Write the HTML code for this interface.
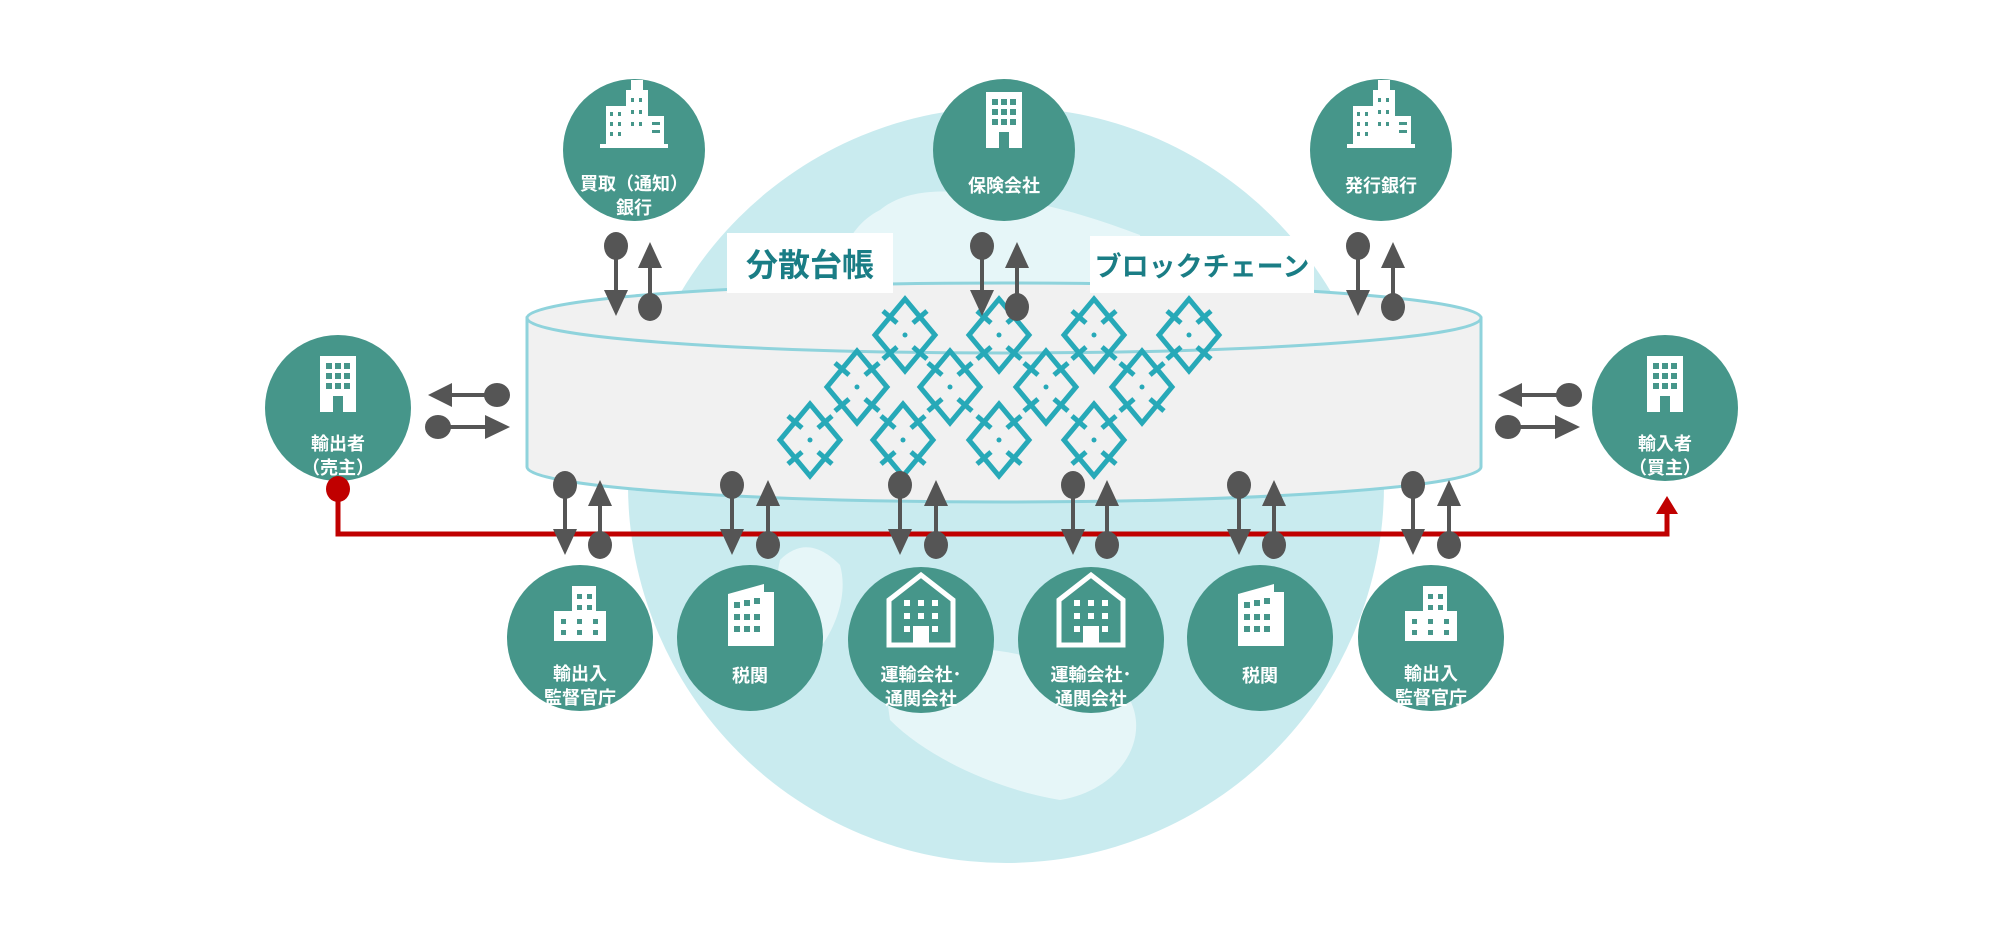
<!DOCTYPE html>
<html><head><meta charset="utf-8"><style>
html,body{margin:0;padding:0;background:#fff;}
svg{display:block;}
text{font-family:"Liberation Sans","Noto Sans CJK JP",sans-serif;font-weight:bold;}
</style></head><body>
<svg width="2000" height="929" viewBox="0 0 2000 929" xmlns="http://www.w3.org/2000/svg">
<defs>
<g id="dia" fill="none" stroke="#27a9b8" stroke-width="5">
<path d="M0,-36 L30,0 L0,36 L-30,0 Z"/>
<path d="M-22,-24 L-8,-12 M22,-24 L8,-12 M-22,24 L-8,12 M22,24 L8,12" />
<circle cx="0" cy="0" r="2.5" fill="#27a9b8" stroke="none"/>
</g>
<g id="dn"><ellipse cx="0" cy="0" rx="12" ry="14" fill="#555"/><line x1="0" y1="0" x2="0" y2="50" stroke="#555" stroke-width="4"/><path d="M-12,44 L12,44 L0,70 Z" fill="#555"/></g>
<g id="up"><ellipse cx="0" cy="65" rx="12" ry="14" fill="#555"/><line x1="0" y1="65" x2="0" y2="20" stroke="#555" stroke-width="4"/><path d="M-12,26 L12,26 L0,0 Z" fill="#555"/></g>
<g id="b1" fill="#fff"><rect x="-18" y="-28" width="36" height="56"/><g fill="#46968a"><rect x="-12" y="-21" width="6" height="6"/><rect x="-3" y="-21" width="6" height="6"/><rect x="6" y="-21" width="6" height="6"/><rect x="-12" y="-11" width="6" height="6"/><rect x="-3" y="-11" width="6" height="6"/><rect x="6" y="-11" width="6" height="6"/><rect x="-12" y="-1" width="6" height="6"/><rect x="-3" y="-1" width="6" height="6"/><rect x="6" y="-1" width="6" height="6"/><rect x="-5" y="12" width="10" height="16"/></g></g>
<g id="b2"><path d="M-32,-10 L0,-35 L32,-10 L32,35 L-32,35 Z" fill="none" stroke="#fff" stroke-width="5"/><g fill="#fff"><rect x="-17" y="-10" width="6" height="6"/><rect x="-3" y="-10" width="6" height="6"/><rect x="11" y="-10" width="6" height="6"/><rect x="-17" y="3" width="6" height="6"/><rect x="-3" y="3" width="6" height="6"/><rect x="11" y="3" width="6" height="6"/><rect x="-17" y="16" width="6" height="6"/><rect x="11" y="16" width="6" height="6"/><rect x="-8" y="16" width="16" height="19"/></g></g>
<g id="b3" fill="#fff"><rect x="-26" y="-5" width="52" height="30"/><rect x="-8" y="-30" width="24" height="30"/><g fill="#46968a"><rect x="-19" y="3" width="5" height="5"/><rect x="-3" y="3" width="5" height="5"/><rect x="13" y="3" width="5" height="5"/><rect x="-19" y="14" width="5" height="5"/><rect x="-3" y="14" width="5" height="5"/><rect x="13" y="14" width="5" height="5"/><rect x="-3" y="-22" width="5" height="5"/><rect x="7" y="-22" width="5" height="5"/><rect x="-3" y="-11" width="5" height="5"/><rect x="7" y="-11" width="5" height="5"/></g></g>
<g id="b4" fill="#fff"><path d="M-22,-22 L14,-32 L14,30 L-22,30 Z"/><rect x="14" y="-24" width="10" height="54"/><g fill="#46968a"><rect x="-16" y="-14" width="6" height="6"/><rect x="-6" y="-16" width="6" height="6"/><rect x="4" y="-18" width="6" height="6"/><rect x="-16" y="-2" width="6" height="6"/><rect x="-6" y="-2" width="6" height="6"/><rect x="4" y="-2" width="6" height="6"/><rect x="-16" y="10" width="6" height="6"/><rect x="-6" y="10" width="6" height="6"/><rect x="4" y="10" width="6" height="6"/></g></g>
<g id="b5" fill="#fff"><rect x="-34" y="26" width="68" height="4"/><rect x="-28" y="-12" width="20" height="38"/><rect x="-8" y="-28" width="22" height="54"/><rect x="-3" y="-38" width="12" height="10"/><rect x="14" y="-2" width="16" height="28"/><g fill="#46968a"><rect x="-24" y="-6" width="3" height="4"/><rect x="-16" y="-6" width="3" height="4"/><rect x="-24" y="4" width="3" height="4"/><rect x="-16" y="4" width="3" height="4"/><rect x="-24" y="14" width="3" height="4"/><rect x="-16" y="14" width="3" height="4"/><rect x="-3" y="-20" width="3" height="4"/><rect x="5" y="-20" width="3" height="4"/><rect x="-3" y="-8" width="3" height="4"/><rect x="5" y="-8" width="3" height="4"/><rect x="-3" y="4" width="3" height="4"/><rect x="5" y="4" width="3" height="4"/><rect x="18" y="4" width="8" height="3"/><rect x="18" y="12" width="8" height="3"/></g></g>
</defs>

<circle cx="1006" cy="485" r="378" fill="#c9ebef"/>
<path d="M880,210 C910,185 960,190 1000,198 C1050,203 1100,220 1140,235 L1150,290 L830,290 C840,255 850,225 880,210 Z" fill="#eef9fa" opacity="0.8"/>
<path d="M780,560 C800,540 820,545 840,565 C850,600 830,640 810,660 C790,640 770,600 780,560 Z" fill="#eef9fa" opacity="0.8"/>
<path d="M880,650 C960,640 1060,650 1130,700 C1150,740 1120,790 1060,800 C1000,790 930,760 890,720 Z" fill="#eef9fa" opacity="0.8"/>

<path d="M527,318 L527,467 A477,35 0 0 0 1481,467 L1481,318 Z" fill="#f1f1f1" stroke="#8fd3dc" stroke-width="3"/>
<ellipse cx="1004" cy="318" rx="477" ry="35" fill="#f1f1f1" stroke="#8fd3dc" stroke-width="3"/>

<rect x="727" y="233" width="166" height="60" fill="#fff"/>
<text x="810" y="276" font-size="32" fill="#1a7d85" text-anchor="middle">分散台帳</text>
<rect x="1090" y="236" width="224" height="57" fill="#fff"/>
<text x="1202" y="276" font-size="27" fill="#1a7d85" text-anchor="middle">ブロックチェーン</text>

<use href="#dia" x="810" y="440"/>
<use href="#dia" x="857" y="387"/>
<use href="#dia" x="905" y="335"/>
<use href="#dia" x="950" y="387"/>
<use href="#dia" x="903" y="440"/>
<use href="#dia" x="999" y="335"/>
<use href="#dia" x="999" y="440"/>
<use href="#dia" x="1046" y="387"/>
<use href="#dia" x="1094" y="335"/>
<use href="#dia" x="1094" y="440"/>
<use href="#dia" x="1142" y="387"/>
<use href="#dia" x="1189" y="335"/>

<polyline points="338,489 338,534 1667,534 1667,510" fill="none" stroke="#c00000" stroke-width="5"/>
<path d="M1656,514 L1678,514 L1667,496 Z" fill="#c00000"/>

<use href="#dn" x="616" y="246"/><use href="#up" x="650" y="242"/>
<use href="#dn" x="982" y="246"/><use href="#up" x="1017" y="242"/>
<use href="#dn" x="1358" y="246"/><use href="#up" x="1393" y="242"/>
<use href="#dn" x="565" y="485"/><use href="#up" x="600" y="480"/>
<use href="#dn" x="732" y="485"/><use href="#up" x="768" y="480"/>
<use href="#dn" x="900" y="485"/><use href="#up" x="936" y="480"/>
<use href="#dn" x="1073" y="485"/><use href="#up" x="1107" y="480"/>
<use href="#dn" x="1239" y="485"/><use href="#up" x="1274" y="480"/>
<use href="#dn" x="1413" y="485"/><use href="#up" x="1449" y="480"/>
<g fill="#555" stroke="#555">
<ellipse cx="497" cy="395" rx="13" ry="12" stroke="none"/><line x1="497" y1="395" x2="445" y2="395" stroke-width="4"/><path d="M452,383 L452,407 L428,395 Z" stroke="none"/>
<ellipse cx="438" cy="427" rx="13" ry="12" stroke="none"/><line x1="438" y1="427" x2="490" y2="427" stroke-width="4"/><path d="M485,415 L485,439 L510,427 Z" stroke="none"/>
<ellipse cx="1569" cy="395" rx="13" ry="12" stroke="none"/><line x1="1569" y1="395" x2="1515" y2="395" stroke-width="4"/><path d="M1522,383 L1522,407 L1498,395 Z" stroke="none"/>
<ellipse cx="1508" cy="427" rx="13" ry="12" stroke="none"/><line x1="1508" y1="427" x2="1560" y2="427" stroke-width="4"/><path d="M1555,415 L1555,439 L1580,427 Z" stroke="none"/>
</g>

<g fill="#46968a">
<circle cx="634" cy="150" r="71"/><circle cx="1004" cy="150" r="71"/><circle cx="1381" cy="150" r="71"/>
<circle cx="338" cy="408" r="73"/><circle cx="1665" cy="408" r="73"/>
<circle cx="580" cy="638" r="73"/><circle cx="750" cy="638" r="73"/><circle cx="921" cy="640" r="73"/><circle cx="1091" cy="640" r="73"/><circle cx="1260" cy="638" r="73"/><circle cx="1431" cy="638" r="73"/>
</g>
<ellipse cx="338" cy="489" rx="12" ry="13" fill="#c00000"/>

<use href="#b5" x="634" y="118"/>
<use href="#b1" x="1004" y="120"/>
<use href="#b5" x="1381" y="118"/>
<use href="#b1" x="338" y="384"/>
<use href="#b1" x="1665" y="384"/>
<use href="#b3" x="580" y="616"/>
<use href="#b4" x="750" y="616"/>
<use href="#b2" x="921" y="610"/>
<use href="#b2" x="1091" y="610"/>
<use href="#b4" x="1260" y="616"/>
<use href="#b3" x="1431" y="616"/>

<g fill="#fff" font-size="18" text-anchor="middle">
<text x="634" y="190">買取（通知）</text><text x="634" y="214">銀行</text>
<text x="1004" y="192">保険会社</text>
<text x="1381" y="192">発行銀行</text>
<text x="338" y="450">輸出者</text><text x="338" y="474">（売主）</text>
<text x="1665" y="450">輸入者</text><text x="1665" y="474">（買主）</text>
<text x="580" y="680">輸出入</text><text x="580" y="704">監督官庁</text>
<text x="750" y="682">税関</text>
<text x="921" y="681">運輸会社･</text><text x="921" y="705">通関会社</text>
<text x="1091" y="681">運輸会社･</text><text x="1091" y="705">通関会社</text>
<text x="1260" y="682">税関</text>
<text x="1431" y="680">輸出入</text><text x="1431" y="704">監督官庁</text>
</g>
</svg>
</body></html>
